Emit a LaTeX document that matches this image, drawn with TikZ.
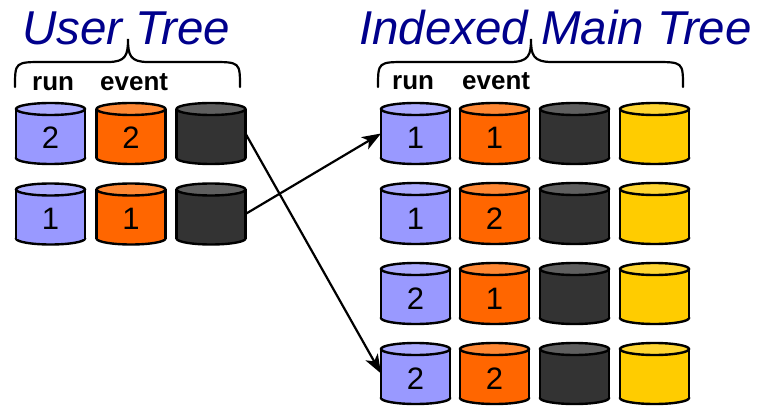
\documentclass[tikz,border=0pt]{standalone}
\usepackage{fontspec}
\setmainfont{Liberation Sans}
\usetikzlibrary{arrows.meta}
\definecolor{lav}{RGB}{153,153,255}
\definecolor{lavtop}{RGB}{172,172,255}
\definecolor{org}{RGB}{255,102,0}
\definecolor{orgtop}{RGB}{255,136,51}
\definecolor{drk}{RGB}{51,51,51}
\definecolor{drktop}{RGB}{95,95,95}
\definecolor{yel}{RGB}{255,204,0}
\definecolor{yeltop}{RGB}{255,214,51}
\definecolor{navy}{RGB}{0,0,140}
\tikzset{
  cylbox/.style={rectangle, draw=none, minimum width=69pt, minimum height=61pt, inner sep=0pt, outer sep=0pt},
  numtext/.style={font=\fontsize{31}{31}\selectfont, anchor=base, inner sep=0pt},
  coltext/.style={font=\fontsize{26}{26}\selectfont\bfseries, anchor=base west, inner sep=0pt},
  titletext/.style={font=\fontsize{47.5}{47.5}\selectfont\itshape, text=navy, anchor=base west, inner sep=0pt},
  bracepath/.style={line width=2.2pt, line cap=round},
  movearrow/.style={line width=2.2pt, -{Stealth[length=19pt, width=14pt, inset=5pt]}},
}
\newcommand{\cyl}[6]{%
  \fill[#4, draw=black] ({#2+34.5},{#3+55}) ellipse [x radius=34.5, y radius=6];
  \fill[#4] (#2,{#3+6}) rectangle ({#2+69},{#3+55});
  \draw (#2,{#3+6}) -- (#2,{#3+55}) ({#2+69},{#3+6}) -- ({#2+69},{#3+55});
  \filldraw[fill=#5] ({#2+34.5},{#3+6}) ellipse [x radius=34.5, y radius=6];
  \node[cylbox] (#1) at ({#2+34.5},{#3+30.5}) {};
  \node[numtext] (#1-n) at ({#2+34.5},{#3+46}) {#6};
}
\begin{document}
\begin{tikzpicture}[x=1pt, y=-1pt, line width=2.4pt]
\useasboundingbox (0,0) rectangle (765,406);
% titles
\node[titletext] (ut) at (21,45) {User Tree};
\node[titletext] (it) at (358,45) {Indexed Main Tree};
% braces
\draw[bracepath] (15,87) .. controls (15,62) .. (44,62) -- (108,62)
   .. controls (126,62) and (128,55) .. (128,39)
   .. controls (128,55) and (130,62) .. (148,62) -- (211,62)
   .. controls (240,62) .. (240,87);
\draw[bracepath] (378,87) .. controls (378,62) .. (407,62) -- (510,62)
   .. controls (529,62) and (531,55) .. (531,39)
   .. controls (531,55) and (533,62) .. (552,62) -- (654,62)
   .. controls (683,62) .. (683,87);
% column labels
\node[coltext] (ur) at (31,91) {run};
\node[coltext] (ue) at (99,91) {event};
\node[coltext] (ir) at (391,90) {run};
\node[coltext] (ie) at (461,90) {event};
% user tree
\cyl{u1a}{16}{103}{lav}{lavtop}{2}
\cyl{u1b}{96.5}{103}{org}{orgtop}{2}
\cyl{u1c}{176.5}{103}{drk}{drktop}{}
\cyl{u2a}{16}{183.5}{lav}{lavtop}{1}
\cyl{u2b}{96.5}{183.5}{org}{orgtop}{1}
\cyl{u2c}{176.5}{183.5}{drk}{drktop}{}
% indexed main tree
\cyl{m1a}{381}{103}{lav}{lavtop}{1}
\cyl{m1b}{460}{103}{org}{orgtop}{1}
\cyl{m1c}{540}{103}{drk}{drktop}{}
\cyl{m1d}{620}{103}{yel}{yeltop}{}
\cyl{m2a}{381}{183}{lav}{lavtop}{1}
\cyl{m2b}{460}{183}{org}{orgtop}{2}
\cyl{m2c}{540}{183}{drk}{drktop}{}
\cyl{m2d}{620}{183}{yel}{yeltop}{}
\cyl{m3a}{381}{263}{lav}{lavtop}{2}
\cyl{m3b}{460}{263}{org}{orgtop}{1}
\cyl{m3c}{540}{263}{drk}{drktop}{}
\cyl{m3d}{620}{263}{yel}{yeltop}{}
\cyl{m4a}{381}{343}{lav}{lavtop}{2}
\cyl{m4b}{460}{343}{org}{orgtop}{2}
\cyl{m4c}{540}{343}{drk}{drktop}{}
\cyl{m4d}{620}{343}{yel}{yeltop}{}
% arrows
\draw[movearrow] (u1c.east) -- (m4a.west);
\draw[movearrow] (u2c.east) -- (m1a.west);
\end{tikzpicture}
\end{document}
